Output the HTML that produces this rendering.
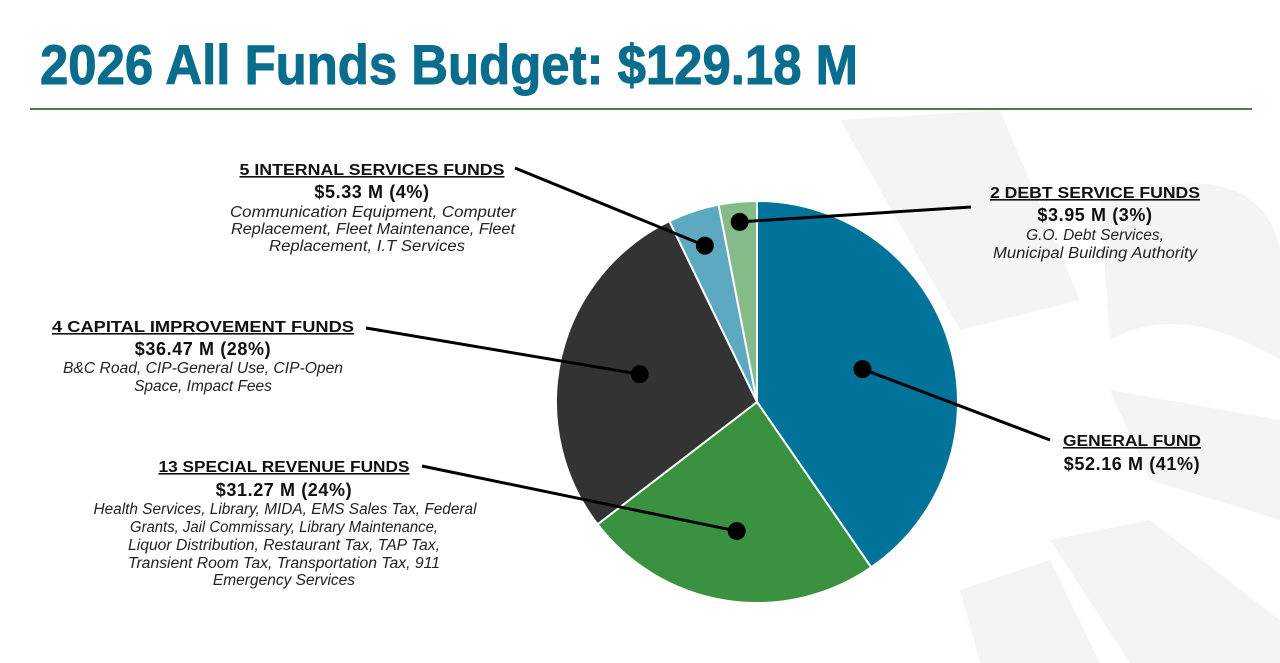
<!DOCTYPE html>
<html><head><meta charset="utf-8"><style>
html,body{margin:0;padding:0;background:#fff;}
svg{display:block;font-family:"Liberation Sans",sans-serif;}
.h{font-weight:bold;font-size:16px;text-decoration:underline;fill:#111;}
.v{font-weight:bold;font-size:18px;fill:#111;letter-spacing:0.6px;}
.d{font-style:italic;font-size:15.5px;fill:#222;}
</style></head><body>
<svg id="chart" width="1280" height="663" viewBox="0 0 1280 663">
<g fill="#f4f4f4">
<path d="M840 120 L1000 110 L1080 300 L960 330 Z"/>
<path d="M1100 200 Q1260 150 1280 250 L1280 360 Q1180 300 1110 340 Z"/>
<path d="M1110 390 L1280 420 L1280 520 L1150 480 Z"/>
<path d="M1050 540 L1150 520 L1280 620 L1280 663 L1130 663 Z"/>
<path d="M960 590 L1050 560 L1100 663 L980 663 Z"/>
</g>
<text x="40" y="84" font-size="56" font-weight="bold" fill="#0b6d8e" stroke="#0b6d8e" stroke-width="1" textLength="818" lengthAdjust="spacingAndGlyphs">2026 All Funds Budget:  $129.18 M</text>
<rect x="30" y="108" width="1222" height="2" fill="#4a7c46"/>
<g id="pie"></g>
<g id="leaders"></g>

<g text-anchor="middle">
<text class="h" x="372" y="175" textLength="265" lengthAdjust="spacingAndGlyphs">5 INTERNAL SERVICES FUNDS</text>
<text class="v" x="372" y="198">$5.33 M (4%)</text>
<text class="d" x="373" y="217" textLength="286" lengthAdjust="spacingAndGlyphs">Communication Equipment, Computer</text>
<text class="d" x="373" y="234" textLength="284" lengthAdjust="spacingAndGlyphs">Replacement, Fleet Maintenance, Fleet</text>
<text class="d" x="367" y="251" textLength="196" lengthAdjust="spacingAndGlyphs">Replacement, I.T Services</text>
</g>
<g text-anchor="middle">
<text class="h" x="1095" y="198" textLength="210" lengthAdjust="spacingAndGlyphs">2 DEBT SERVICE FUNDS</text>
<text class="v" x="1095" y="221">$3.95 M (3%)</text>
<text class="d" x="1095" y="240">G.O. Debt Services,</text>
<text class="d" x="1095" y="258" textLength="204" lengthAdjust="spacingAndGlyphs">Municipal Building Authority</text>
</g>
<g text-anchor="middle">
<text class="h" x="203" y="332" textLength="302" lengthAdjust="spacingAndGlyphs">4 CAPITAL IMPROVEMENT FUNDS</text>
<text class="v" x="203" y="355">$36.47 M (28%)</text>
<text class="d" x="203" y="373" textLength="280" lengthAdjust="spacingAndGlyphs">B&amp;C Road, CIP-General Use, CIP-Open</text>
<text class="d" x="203" y="391">Space, Impact Fees</text>
</g>
<g text-anchor="middle">
<text class="h" x="284" y="472" textLength="251" lengthAdjust="spacingAndGlyphs">13 SPECIAL REVENUE FUNDS</text>
<text class="v" x="284" y="496">$31.27 M (24%)</text>
<text class="d" x="285" y="514" textLength="383" lengthAdjust="spacingAndGlyphs">Health Services, Library, MIDA, EMS Sales Tax, Federal</text>
<text class="d" x="284" y="532" textLength="308" lengthAdjust="spacingAndGlyphs">Grants, Jail Commissary, Library Maintenance,</text>
<text class="d" x="284" y="550" textLength="312" lengthAdjust="spacingAndGlyphs">Liquor Distribution, Restaurant Tax, TAP Tax,</text>
<text class="d" x="284" y="568" textLength="312" lengthAdjust="spacingAndGlyphs">Transient Room Tax, Transportation Tax, 911</text>
<text class="d" x="284" y="585">Emergency Services</text>
</g>
<g text-anchor="middle">
<text class="h" x="1132" y="446" textLength="138" lengthAdjust="spacingAndGlyphs">GENERAL FUND</text>
<text class="v" x="1132" y="470">$52.16 M (41%)</text>
</g>
</svg>
<script>
const categories = ["General Fund","Special Revenue","Capital Improvement","Internal Services","Debt Service"];
const values = [52.16, 31.27, 36.47, 5.33, 3.95];
const colors = ["#00739a","#3a9140","#333333","#5ea9c2","#84bb88"];
const labelAnchors = [[1050,440],[422,466],[366,328],[515,168],[971,207]];
const dotFrac = [0.55, 0.65, 0.6, 0.82, 0.9];
const cx=757, cy=402, R=201;
const NS="http://www.w3.org/2000/svg";
const pie=document.getElementById('pie'), leaders=document.getElementById('leaders');
const total=values.reduce((a,b)=>a+b,0);
function pt(a,r){return [cx+r*Math.sin(a), cy-r*Math.cos(a)];}
let a0=0;
values.forEach((v,i)=>{
  const a1=a0+v/total*2*Math.PI;
  const p0=pt(a0,R), p1=pt(a1,R);
  const path=document.createElementNS(NS,'path');
  path.setAttribute('d',`M${cx} ${cy} L${p0[0]} ${p0[1]} A${R} ${R} 0 ${a1-a0>Math.PI?1:0} 1 ${p1[0]} ${p1[1]} Z`);
  path.setAttribute('fill',colors[i]);
  path.setAttribute('stroke','#fff');
  path.setAttribute('stroke-width','2');
  
  
  pie.appendChild(path);
  const mid=(a0+a1)/2;
  const d=pt(mid,R*dotFrac[i]);
  const ln=document.createElementNS(NS,'line');
  ln.setAttribute('x1',d[0]);ln.setAttribute('y1',d[1]);
  ln.setAttribute('x2',labelAnchors[i][0]);ln.setAttribute('y2',labelAnchors[i][1]);
  ln.setAttribute('stroke','#000');ln.setAttribute('stroke-width','3');
  
  
  leaders.appendChild(ln);
  const c=document.createElementNS(NS,'circle');
  c.setAttribute('cx',d[0]);c.setAttribute('cy',d[1]);c.setAttribute('r','9');c.setAttribute('fill','#000');
  
  
  leaders.appendChild(c);
  a0=a1;
});
</script>
</body></html>
